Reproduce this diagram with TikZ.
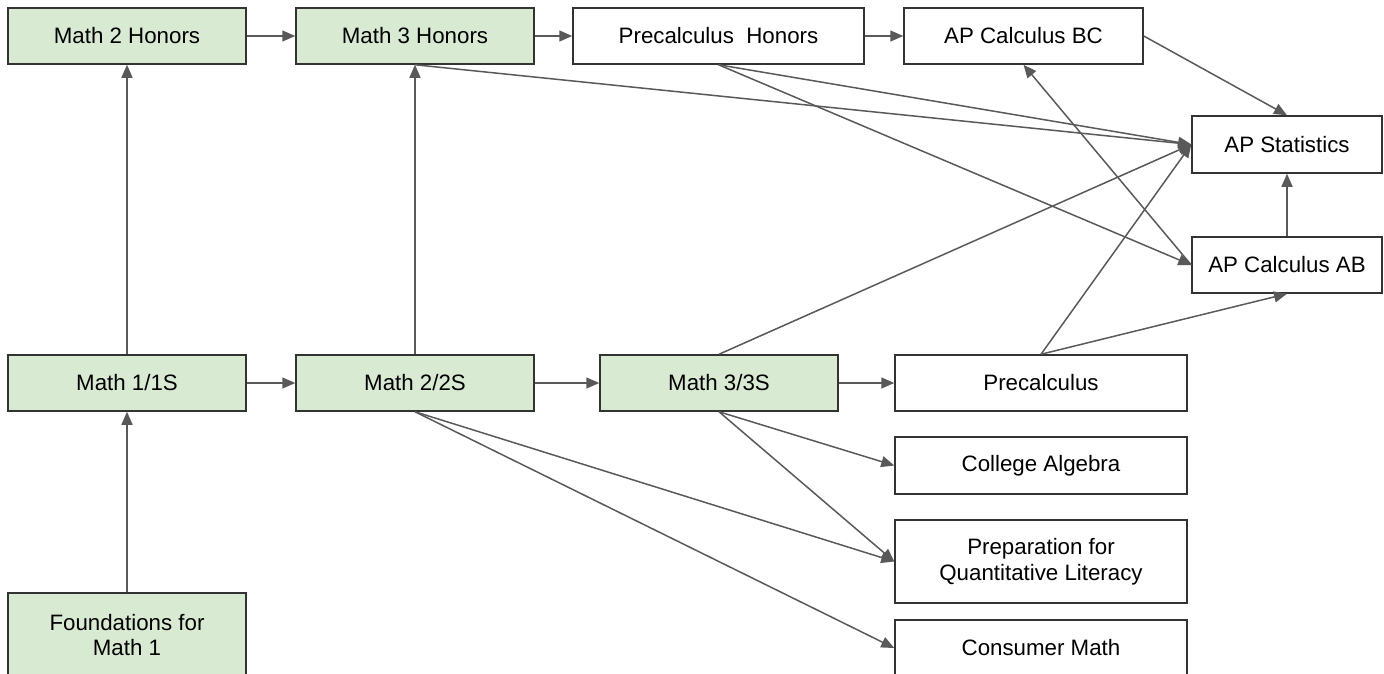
\documentclass[tikz,border=0pt]{standalone}
\usepackage{fontspec}
\setmainfont{Liberation Sans}
\usetikzlibrary{arrows.meta}
\definecolor{boxgreen}{HTML}{D9EAD3}
\definecolor{edgegray}{HTML}{595959}
\definecolor{bordergray}{HTML}{333333}
\tikzset{
  course/.style={draw=bordergray, line width=1.5pt, fill=white, inner sep=0pt,
    minimum height=56pt, align=center, font=\fontsize{22.3}{25.5}\selectfont},
  core/.style={course, fill=boxgreen},
  link/.style={draw=edgegray, line width=1.5pt, -{Triangle[length=13pt,width=11pt]}},
}
\begin{document}
\begin{tikzpicture}[x=1pt,y=-1pt]
\useasboundingbox (0,0) rectangle (1384,673);
\clip (0,0) rectangle (1384,673);
% top row
\node[core, minimum width=238pt] (m2h) at (127,36) {Math 2 Honors};
\node[core, minimum width=238pt] (m3h) at (415,36) {Math 3 Honors};
\node[course, minimum width=291pt] (pch) at (718.5,36) {Precalculus\ \ Honors};
\node[course, minimum width=239pt] (bc) at (1023.5,36) {AP Calculus BC};
% right column
\node[course, minimum width=190pt, minimum height=57pt] (stat) at (1287,144.5) {AP Statistics};
\node[course, minimum width=190pt] (ab) at (1287,265) {AP Calculus AB};
% middle row
\node[core, minimum width=238pt] (m1) at (127,383) {Math 1/1S};
\node[core, minimum width=238pt] (m2) at (415,383) {Math 2/2S};
\node[core, minimum width=238pt] (m3) at (719,383) {Math 3/3S};
\node[course, minimum width=292pt] (pc) at (1041,383) {Precalculus};
% lower column
\node[course, minimum width=292pt, minimum height=57pt] (ca) at (1041,465.5) {College Algebra};
\node[course, minimum width=292pt, minimum height=83pt] (prep) at (1041,561.5) {Preparation for\\Quantitative Literacy};
\node[course, minimum width=292pt] (cons) at (1041,648) {Consumer Math};
\node[core, minimum width=238pt, minimum height=84pt] (found) at (127,635) {Foundations for\\Math 1};
% connectors
\draw[link] (m2h) -- (m3h);
\draw[link] (m3h) -- (pch);
\draw[link] (pch) -- (bc);
\draw[link] (bc.east) -- (stat.north);
\draw[link] (m3h.south) -- (stat.west);
\draw[link] (pch.south) -- (stat.west);
\draw[link] (pch.south) -- (ab.west);
\draw[link] (ab.west) -- (bc.south);
\draw[link] (ab.north) -- (stat.south);
\draw[link] (m3.north) -- (stat.west);
\draw[link] (pc.north) -- (stat.west);
\draw[link] (pc.north) -- (ab.south);
\draw[link] (m1.north) -- (m2h.south);
\draw[link] (m2.north) -- (m3h.south);
\draw[link] (found.north) -- (m1.south);
\draw[link] (m1) -- (m2);
\draw[link] (m2) -- (m3);
\draw[link] (m3) -- (pc);
\draw[link] (m3.south) -- (ca.west);
\draw[link] (m3.south) -- (prep.west);
\draw[link] (m2.south) -- (prep.west);
\draw[link] (m2.south) -- (cons.west);
\end{tikzpicture}
\end{document}
